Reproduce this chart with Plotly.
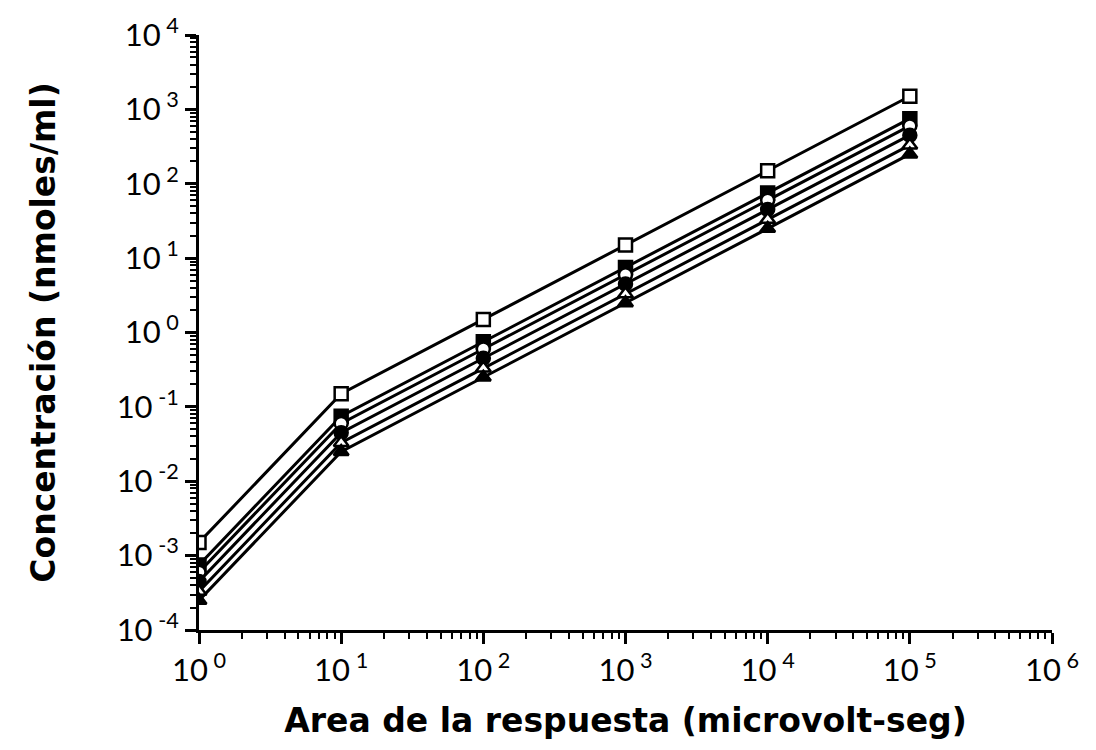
import plotly.graph_objects as go

# Calibration: detector response area vs. concentration, six compounds
area = [1e0, 1e1, 1e2, 1e3, 1e4, 1e5]

conc_open_square = [1.5e-3, 0.15, 1.5, 15, 150, 1500]
conc_filled_square = [7.5e-4, 0.075, 0.75, 7.5, 75, 750]
conc_open_circle = [6.0e-4, 0.060, 0.60, 6.0, 60, 600]
conc_filled_circle = [4.5e-4, 0.045, 0.45, 4.5, 45, 450]
conc_open_triangle = [3.3e-4, 0.033, 0.33, 3.3, 33, 330]
conc_filled_triangle = [2.5e-4, 0.025, 0.25, 2.5, 25, 250]

x_tickvals = [1e0, 1e1, 1e2, 1e3, 1e4, 1e5, 1e6]
x_exponents = ["0", "1", "2", "3", "4", "5", "6"]
y_tickvals = [1e-4, 1e-3, 1e-2, 1e-1, 1e0, 1e1, 1e2, 1e3, 1e4]
y_exponents = ["-4", "-3", "-2", "-1", "0", "1", "2", "3", "4"]


def power_labels(exponents):
    return ["10<sup>\u00a0" + e + "</sup>" for e in exponents]


series = [
    (conc_open_square, "square-open"),
    (conc_filled_square, "square"),
    (conc_open_circle, "circle-open"),
    (conc_filled_circle, "circle"),
    (conc_open_triangle, "triangle-up-open"),
    (conc_filled_triangle, "triangle-up"),
]

fig = go.Figure()
for values, symbol in series:
    is_open = symbol.endswith("open")
    fig.add_trace(go.Scatter(
        x=area, y=values, mode="lines+markers",
        line=dict(color="black", width=3),
        marker=dict(
            symbol=symbol.replace("-open", ""),
            size=13,
            color="white" if is_open else "black",
            line=dict(color="black", width=2.5),
        ),
        showlegend=False,
    ))

font_ticks = dict(family="Lato, 'Open Sans', sans-serif", size=31, color="black")
font_title = dict(family="'DejaVu Sans', sans-serif", size=33, color="black")

axis_common = dict(
    type="log",
    showgrid=False,
    zeroline=False,
    showline=True,
    linecolor="black",
    linewidth=3,
    ticks="outside",
    ticklen=11,
    tickwidth=2.5,
    tickcolor="black",
    tickfont=font_ticks,
    minor=dict(ticks="outside", ticklen=6, tickwidth=2, tickcolor="black", dtick="D1"),
)

fig.update_layout(
    width=1096, height=750,
    paper_bgcolor="white", plot_bgcolor="white",
    margin=dict(l=199, r=44, t=33, b=120),
    xaxis=dict(
        axis_common,
        range=[0, 6],
        tickmode="array", tickvals=x_tickvals, ticktext=power_labels(x_exponents),
        title=dict(text="<b>Area de la respuesta (microvolt-seg)</b>", font=font_title, standoff=22),
    ),
    yaxis=dict(
        axis_common,
        range=[-4, 4],
        tickmode="array", tickvals=y_tickvals, ticktext=power_labels(y_exponents),
        title=dict(text="<b>Concentración (nmoles/ml)</b>", font=font_title, standoff=52),
    ),
)

fig.write_html("out.html")
